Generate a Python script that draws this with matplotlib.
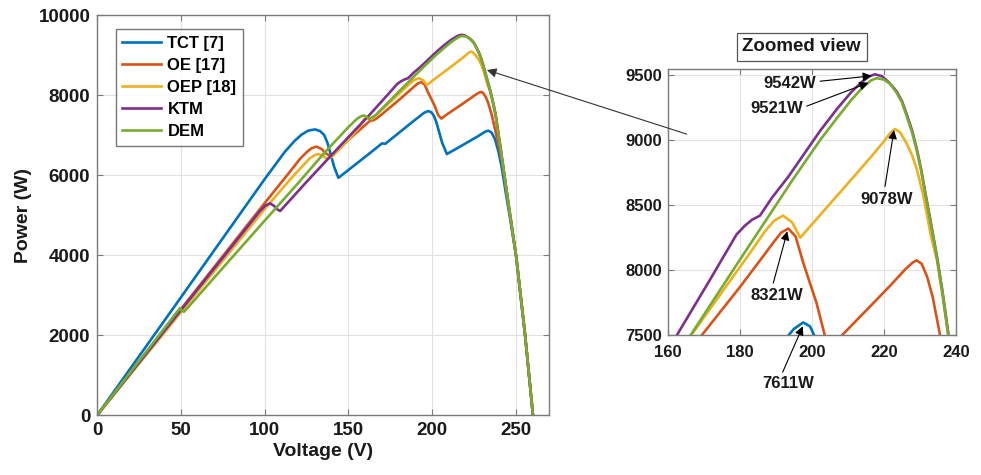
import matplotlib
matplotlib.use('Agg')
import matplotlib.pyplot as plt

plt.rcParams['font.family'] = ['Liberation Sans', 'DejaVu Sans']
plt.rcParams['font.weight'] = 'bold'

# ---------------- data ----------------
TCT_V = [0, 45, 100, 112, 118, 122, 126, 130, 133, 135.5, 137.5, 139.5, 141.5, 144, 155, 165, 170, 172,
         180, 188, 192, 195, 197.6, 199.5, 201, 202.5, 204, 206, 208.8, 215, 222, 227, 230, 232, 233.6,
         235.5, 237.5, 239.5, 241.5, 244, 247, 250.2, 255.5, 260.2]
TCT_P = [0, 2650, 5900, 6580, 6860, 7010, 7110, 7140, 7100, 7000, 6800, 6500, 6200, 5930, 6290, 6620, 6790, 6780,
         7050, 7320, 7450, 7550, 7600, 7570, 7480, 7320, 7100, 6800, 6525, 6670, 6840, 6960, 7040, 7090, 7108,
         7060, 6900, 6600, 6200, 5550, 4800, 3958, 2000, 0]

OE_V = [0, 50, 100, 115, 121, 125, 128, 131, 134, 136.5, 139.4, 150, 160, 163, 165, 167, 169.4, 180, 186,
        189.5, 191.5, 193.5, 195.5, 197.6, 199.5, 201.3, 203.6, 205.5, 208.3, 215, 222, 226, 228, 229.1,
        230.5, 232, 233.5, 235.6, 238, 240, 242, 244, 247, 250.2, 255.5, 260.2]
OE_P = [0, 2650, 5300, 6080, 6400, 6570, 6670, 6710, 6650, 6540, 6470, 6880, 7250, 7360, 7370, 7420, 7500, 7870, 8090,
        8220, 8290, 8321, 8260, 8060, 7900, 7750, 7500, 7410, 7500, 7690, 7890, 8010, 8060, 8077,
        8050, 7950, 7800, 7500, 7060, 6700, 6300, 5700, 4850, 3958, 2000, 0]

OEP_V = [0, 50, 100, 115, 122, 127, 130, 132, 134.5, 137, 140, 150, 157, 159.5, 161.5, 164, 166.5, 175, 183,
         187, 189.5, 192, 194.5, 196.8, 205, 212, 217, 220, 221.8, 223.1, 224.5, 226.3, 227.8, 229.1, 230.9,
         232, 233, 234.7, 236.3, 237.9, 241, 245, 250.2, 255.5, 260.2]
OEP_P = [0, 2570, 5150, 5880, 6200, 6420, 6500, 6525, 6490, 6410, 6450, 6880, 7220, 7400, 7420, 7400, 7500, 7830, 8140,
         8300, 8380, 8420, 8370, 8251, 8510, 8730, 8890, 8990, 9055, 9085, 9060, 8975, 8885, 8780, 8580,
         8420, 8270, 8080, 7800, 7490, 6620, 5450, 3958, 2000, 0]

KTM_V = [0, 50, 97, 100.5, 103.2, 105.5, 107.5, 109.2, 125, 139, 150, 162.5, 172, 179.1, 181.5, 183.5, 185.6,
         189, 193.5, 202.3, 207, 211, 214, 216, 217.5, 219.5, 221.5, 223.5, 225, 226.3, 227.8, 229.1, 230.3,
         231.4, 233, 234.7, 236.3, 237.9, 241, 245, 250.2, 255.5, 260.2]
KTM_P = [0, 2625, 5090, 5240, 5290, 5230, 5140, 5100, 5830, 6458, 6950, 7500, 7940, 8275, 8345, 8390, 8420,
         8560, 8720, 9071, 9240, 9370, 9450, 9490, 9505, 9490, 9440, 9375, 9300, 9200, 9075, 8935, 8780,
         8610, 8370, 8110, 7830, 7510, 6630, 5450, 3958, 2000, 0]

DEM_V = [0, 49.4, 50.4, 51.9, 75, 100, 120, 135, 150, 155, 157.5, 159.5, 161, 162.5, 166.3, 180, 194.8, 202.3,
         207, 211, 214, 216.5, 218, 220, 221.8, 223.5, 225, 226.3, 227.8, 229.1, 230.3, 231.4, 233, 234.7,
         236.3, 237.9, 241, 245, 250.2, 255.5, 260.2]
DEM_P = [0, 2675, 2600, 2583, 3680, 4860, 5800, 6525, 7200, 7400, 7470, 7485, 7450, 7400, 7500, 8080, 8700, 9000,
         9170, 9310, 9400, 9460, 9475, 9465, 9430, 9365, 9290, 9185, 9060, 8923, 8770, 8600, 8360, 8100,
         7820, 7500, 6625, 5450, 3958, 2000, 0]

SERIES = [('TCT [7]', TCT_V, TCT_P, '#0072BD'),
          ('OE [17]', OE_V, OE_P, '#D95319'),
          ('OEP [18]', OEP_V, OEP_P, '#EDB120'),
          ('KTM', KTM_V, KTM_P, '#7E2F8E'),
          ('DEM', DEM_V, DEM_P, '#77AC30')]

MAIN_XTICKS = [0, 50, 100, 150, 200, 250]
MAIN_YTICKS = [0, 2000, 4000, 6000, 8000, 10000]
ZOOM_XTICKS = [160, 180, 200, 220, 240]
ZOOM_YTICKS = [7500, 8000, 8500, 9000, 9500]

# annotations in zoomed view: (label, text pos, arrow start, arrow head)
ANNOTS = [('9542W', (193.9, 9431), (202.3, 9452), (216.6, 9493)),
          ('9521W', (190.2, 9244), (198.6, 9261), (215.7, 9440)),
          ('9078W', (220.8, 8542), (220.3, 8644), (222.8, 9077)),
          ('8321W', (190.2, 7804), (189.3, 7902), (193.2, 8300)),
          ('7611W', (193.5, 7128), (191.9, 7218), (197.5, 7571))]

# ---------------- figure ----------------
fig = plt.figure(figsize=(9.81, 4.75), dpi=100)
ax1 = fig.add_axes([0.0992, 0.1263, 0.4608, 0.8421])
ax2 = fig.add_axes([0.6806, 0.2937, 0.2939, 0.5600])

for ax in (ax1, ax2):
    for name, v, p, c in SERIES:
        ax.plot(v, p, color=c, lw=1.9, label=name, solid_joinstyle='round')
    ax.grid(True, color='#e2e2e2', lw=0.8)
    ax.set_axisbelow(True)
    for s in ax.spines.values():
        s.set_color('#7a7a7a')
        s.set_linewidth(1.0)
    ax.tick_params(direction='in', top=True, right=True, length=4, color='#7a7a7a',
                   labelcolor='#1a1a1a')

ax1.set_xlim(0, 270)
ax1.set_ylim(0, 10000)
ax1.set_xticks(MAIN_XTICKS)
ax1.set_yticks(MAIN_YTICKS)
ax1.tick_params(labelsize=13.5, pad=5)
ax1.set_xlabel('Voltage (V)', fontsize=14, fontweight='bold', color='#1a1a1a', labelpad=3)
ax1.set_ylabel('Power (W)', fontsize=14, fontweight='bold', color='#1a1a1a', labelpad=5)

leg = ax1.legend(loc='upper left', bbox_to_anchor=(0.0407, 0.964), borderaxespad=0,
                 frameon=True, fancybox=False, edgecolor='#555555',
                 handlelength=2.3, handletextpad=0.4, labelspacing=0.42, borderpad=0.4,
                 prop={'weight': 'bold', 'size': 12})
leg.get_frame().set_linewidth(1.0)

ax2.set_xlim(160, 240)
ax2.set_ylim(7500, 9542)
ax2.set_xticks(ZOOM_XTICKS)
ax2.set_yticks(ZOOM_YTICKS)
ax2.tick_params(labelsize=12, pad=4)
ax2.tick_params(axis='x', pad=7)

for lab, tpos, start, head in ANNOTS:
    ax2.text(tpos[0], tpos[1], lab, ha='center', va='center', fontsize=12,
             fontweight='bold', color='#1a1a1a', clip_on=False)
    ax2.annotate('', xy=head, xytext=start, xycoords='data', textcoords='data',
                 arrowprops=dict(arrowstyle='-|>', color='black', lw=0.8,
                                 mutation_scale=13, shrinkA=0, shrinkB=0),
                 annotation_clip=False)

fig.text(0.8172, 0.9017, 'Zoomed view', ha='center', va='center', fontsize=13.5,
         fontweight='bold', color='#1a1a1a',
         bbox=dict(boxstyle='square,pad=0.3', fc='white', ec='#555555', lw=0.9))

# arrow linking main plot peak region to zoomed view
ax2.annotate('', xy=(232.7, 8625), xycoords=ax1.transData,
             xytext=(165.3, 9046), textcoords=ax2.transData,
             arrowprops=dict(arrowstyle='-|>', color='#333333', lw=0.8,
                             mutation_scale=14, shrinkA=0, shrinkB=0),
             annotation_clip=False)

fig.savefig('out.png', dpi=100)
